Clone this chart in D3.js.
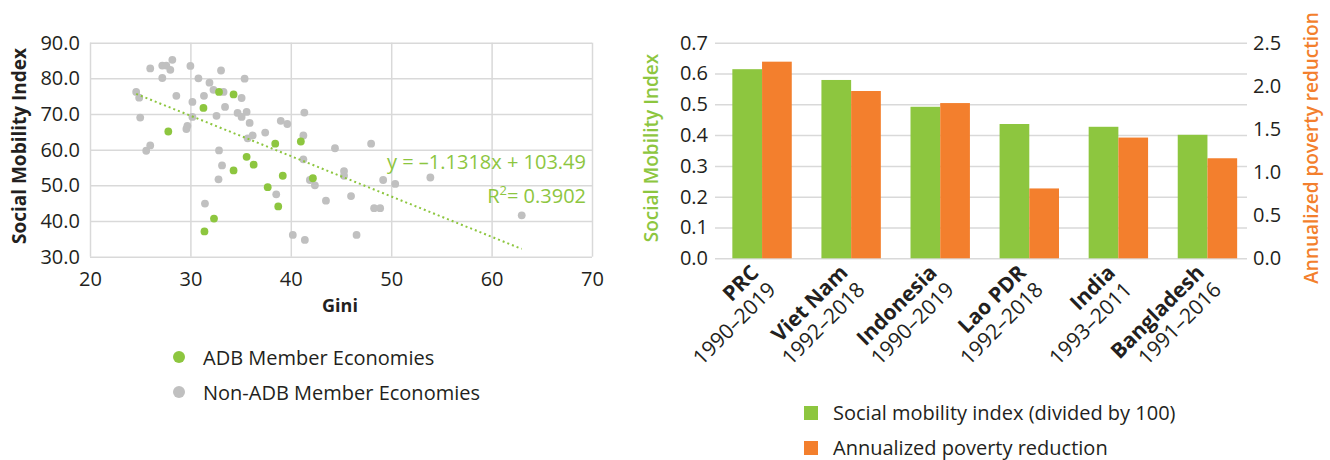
<!DOCTYPE html>
<html>
<head>
<meta charset="utf-8">
<script src="https://cdnjs.cloudflare.com/ajax/libs/d3/7.8.5/d3.min.js"></script>
<style>
  body { margin: 0; background: #fff; }
  text { font-family: "Open Sans", "Noto Sans", sans-serif; fill: #231f20; }
  .grid line { stroke: #d9d9d9; stroke-width: 1.5; }
  .grid .domain { display: none; }
</style>
</head>
<body>
<script>
//scatter data: Gini vs social mobility index
var adbGini = [27.8, 31.3, 32.85, 34.3, 34.3, 35.6, 36.3, 37.7, 38.45, 39.2, 38.75, 41.0, 42.2, 32.35, 31.4];
var adbSmi  = [65.1, 71.7, 76.2, 75.5, 54.2, 58.0, 55.8, 49.5, 61.7, 52.7, 44.1, 62.3, 52.0, 40.7, 37.1];

var nonAdbGini = [24.6, 24.9, 25.0, 26.0, 26.0, 25.6, 27.2, 27.2, 27.6, 28.0, 28.2, 28.6, 29.6, 29.7, 30.0,
                  30.2, 30.2, 30.8, 31.35, 31.9, 32.3, 32.6, 32.85, 33.05, 33.3, 33.45, 33.15, 32.8, 31.45, 34.7,
                  35.1, 35.1, 35.4, 35.6, 35.9, 35.7, 36.2, 37.45, 39.0, 39.65, 38.55, 41.35, 41.25, 41.25, 41.9,
                  42.4, 44.4, 48.0, 45.3, 45.3, 43.5, 46.0, 48.3, 48.9, 49.2, 50.4, 53.9, 63.0, 40.2, 41.4, 46.55];
var nonAdbSmi  = [76.2, 74.6, 69.0, 82.8, 61.2, 59.7, 80.1, 83.6, 83.6, 82.4, 85.2, 75.1, 65.8, 66.7, 83.5,
                  73.4, 69.2, 80.0, 75.1, 78.8, 76.8, 69.5, 59.8, 82.2, 76.2, 72.0, 55.6, 51.7, 44.9, 70.3,
                  69.2, 74.5, 79.9, 70.6, 67.5, 63.2, 64.0, 64.8, 68.1, 67.2, 47.5, 70.4, 64.0, 57.3, 51.5,
                  50.0, 60.4, 61.7, 54.0, 52.7, 45.7, 47.0, 43.6, 43.6, 51.5, 50.4, 52.2, 41.6, 36.1, 34.7, 36.1];

var trendSlope = -1.1318, trendIntercept = 103.49;
var trendGini = [24.6, 63.0];
var scatterXTicks = [20, 30, 40, 50, 60, 70];
var scatterYTicks = [30, 40, 50, 60, 70, 80, 90];
var scatterLegend = ["ADB Member Economies", "Non-ADB Member Economies"];

//bar data
var countries = ["PRC", "Viet Nam", "Indonesia", "Lao PDR", "India", "Bangladesh"];
var periods = ["1990\u20132019", "1992\u20132018", "1990\u20132019", "1992\u20132018", "1993\u20132011", "1991\u20132016"];
var smiValues = [0.614, 0.579, 0.492, 0.436, 0.427, 0.401];
var povertyReduction = [2.28, 1.94, 1.80, 0.81, 1.40, 1.16];
var barLeftTicks = [0, 0.1, 0.2, 0.3, 0.4, 0.5, 0.6, 0.7];
var barRightTicks = [0, 0.5, 1, 1.5, 2, 2.5];
var barLegend = ["Social mobility index (divided by 100)", "Annualized poverty reduction"];

var green = "#8dc63f", orange = "#f37f2d", grey = "#c0c0c0";

var svg = d3.select("body").append("svg")
	.attr("width", 1330)
	.attr("height", 460);

/* ---------- scatter ---------- */
var sx = d3.scaleLinear().domain([20, 70]).range([90, 592]);
var sy = d3.scaleLinear().domain([30, 90]).range([256.7, 42.7]);

svg.append("g")
	.attr("class", "grid")
	.attr("transform", "translate(" + sx(20) + ",0)")
	.call(d3.axisLeft(sy).tickValues(scatterYTicks).tickSize(-(sx(70) - sx(20))).tickPadding(10).tickFormat(d3.format(".1f")))
	.selectAll("text").style("font-size", "20px").attr("fill", "#231f20");

svg.append("g")
	.attr("class", "grid")
	.attr("transform", "translate(0," + sy(30) + ")")
	.call(d3.axisBottom(sx).tickValues(scatterXTicks).tickSize(-(sy(30) - sy(90))).tickPadding(15))
	.selectAll("text").style("font-size", "20px").attr("fill", "#231f20");

svg.append("g").selectAll("circle.non")
	.data(d3.zip(nonAdbGini, nonAdbSmi))
	.enter().append("circle")
	.attr("cx", function(d) { return sx(d[0]); })
	.attr("cy", function(d) { return sy(d[1]); })
	.attr("r", 3.9)
	.attr("fill", grey);

svg.append("g").selectAll("circle.adb")
	.data(d3.zip(adbGini, adbSmi))
	.enter().append("circle")
	.attr("cx", function(d) { return sx(d[0]); })
	.attr("cy", function(d) { return sy(d[1]); })
	.attr("r", 3.9)
	.attr("fill", green);

//linear trend line
svg.append("path")
	.datum(trendGini)
	.attr("d", d3.line()
		.x(function(d) { return sx(d); })
		.y(function(d) { return sy(trendSlope * d + trendIntercept); }))
	.attr("stroke", green)
	.attr("stroke-width", 2)
	.attr("stroke-dasharray", "2,3")
	.attr("fill", "none");

svg.append("text")
	.attr("x", 586).attr("y", 169)
	.attr("text-anchor", "end")
	.style("font-size", "20px").style("fill", green)
	.text("y = \u20131.1318x + 103.49");

var r2 = svg.append("text")
	.attr("x", 586).attr("y", 203)
	.attr("text-anchor", "end")
	.style("font-size", "20px").style("fill", green);
r2.append("tspan").text("R");
r2.append("tspan").attr("dy", -8).style("font-size", "13px").text("2");
r2.append("tspan").attr("dy", 8).text("= 0.3902");

svg.append("text")
	.attr("x", sx(45) - 1).attr("y", 312)
	.attr("text-anchor", "middle")
	.style("font-size", "18px").style("font-weight", "bold")
	.text("Gini");

svg.append("text")
	.attr("transform", "translate(26,146) rotate(-90)")
	.attr("text-anchor", "middle")
	.style("font-size", "19px").style("font-weight", "bold")
	.text("Social Mobility Index");

//scatter legend
var sLeg = svg.append("g").selectAll("g")
	.data(scatterLegend)
	.enter().append("g")
	.attr("transform", function(d, i) { return "translate(179," + (357 + i * 35) + ")"; });
sLeg.append("circle")
	.attr("r", 6)
	.attr("fill", function(d, i) { return i == 0 ? green : grey; });
sLeg.append("text")
	.attr("x", 24).attr("y", 8)
	.style("font-size", "20px")
	.text(function(d) { return d; });

/* ---------- bars ---------- */
var bx = d3.scaleBand().domain(countries).range([717.5, 1252]).paddingInner(0.333).paddingOuter(0.1667);
var bInner = d3.scaleBand().domain([0, 1]).range([0, bx.bandwidth()]);
var yL = d3.scaleLinear().domain([0, 0.7]).range([258.3, 42.7]);
var yR = d3.scaleLinear().domain([0, 2.5]).range([258.3, 42.7]);

svg.append("g")
	.attr("class", "grid")
	.attr("transform", "translate(715,0)")
	.call(d3.axisLeft(yL).tickValues(barLeftTicks).tickSize(-532).tickPadding(7).tickFormat(d3.format(".1f")))
	.selectAll("text").style("font-size", "20px").attr("fill", "#231f20");

svg.append("g")
	.attr("class", "grid")
	.attr("transform", "translate(1247,0)")
	.call(d3.axisRight(yR).tickValues(barRightTicks).tickSize(0).tickPadding(6).tickFormat(d3.format(".1f")))
	.selectAll("text").style("font-size", "20px").attr("fill", "#231f20");

var groups = svg.append("g").selectAll("g")
	.data(countries)
	.enter().append("g")
	.attr("transform", function(d) { return "translate(" + bx(d) + ",0)"; });

groups.append("rect")
	.attr("x", bInner(0))
	.attr("width", bInner.bandwidth())
	.attr("y", function(d, i) { return yL(smiValues[i]); })
	.attr("height", function(d, i) { return yL(0) - yL(smiValues[i]); })
	.attr("fill", green);

groups.append("rect")
	.attr("x", bInner(1))
	.attr("width", bInner.bandwidth())
	.attr("y", function(d, i) { return yR(povertyReduction[i]); })
	.attr("height", function(d, i) { return yR(0) - yR(povertyReduction[i]); })
	.attr("fill", orange);

//rotated category labels, name over period
var labels = svg.append("g").selectAll("text")
	.data(countries)
	.enter().append("text")
	.attr("transform", function(d) { return "translate(" + (bx(d) + bx.bandwidth() / 2 - 2) + ",274) rotate(-45)"; })
	.attr("text-anchor", "end")
	.style("font-size", "21px");
labels.append("tspan")
	.attr("x", 0).attr("y", 0)
	.style("font-weight", "bold")
	.text(function(d) { return d; });
labels.append("tspan")
	.attr("x", 0).attr("y", 24)
	.text(function(d, i) { return periods[i]; });

svg.append("text")
	.attr("transform", "translate(658,148) rotate(-90)")
	.attr("text-anchor", "middle")
	.style("font-size", "19px").style("font-weight", 600).style("fill", green)
	.text("Social Mobility Index");

svg.append("text")
	.attr("transform", "translate(1318,148) rotate(-90)")
	.attr("text-anchor", "middle")
	.style("font-size", "19px").style("font-weight", 600).style("fill", orange)
	.text("Annualized poverty reduction");

//bar legend
var bLeg = svg.append("g").selectAll("g")
	.data(barLegend)
	.enter().append("g")
	.attr("transform", function(d, i) { return "translate(804," + (406 + i * 35) + ")"; });
bLeg.append("rect")
	.attr("width", 14).attr("height", 14)
	.attr("fill", function(d, i) { return i == 0 ? green : orange; });
bLeg.append("text")
	.attr("x", 29).attr("y", 14)
	.style("font-size", "20px")
	.text(function(d) { return d; });
</script>
</body>
</html>
